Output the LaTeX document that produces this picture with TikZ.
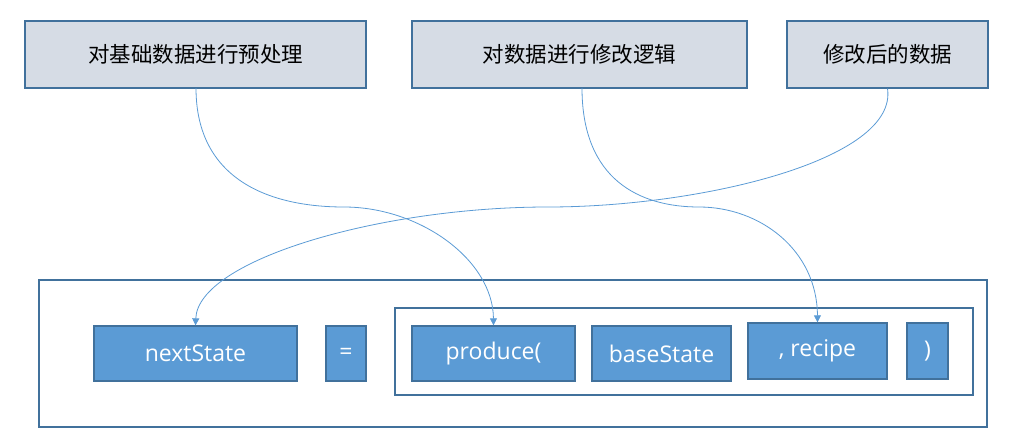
\documentclass[tikz,border=0pt]{standalone}
\usepackage{fontspec}
\setmainfont{Open Sans}
\newfontfamily\cjk{Noto Sans CJK SC}
\usetikzlibrary{arrows.meta}
\definecolor{topfill}{HTML}{D6DCE5}
\definecolor{bord}{HTML}{41719C}
\definecolor{accent}{HTML}{5B9BD5}
\tikzset{
  topbox/.style={draw=bord, line width=1.3pt, fill=topfill, inner sep=0pt, font=\cjk\fontsize{21.5}{25}\selectfont, text=black},
  codebox/.style={draw=bord, line width=1.3pt, fill=accent, inner sep=0pt, font=\fontsize{23}{27}\selectfont, text=white},
  frame/.style={draw=bord, line width=1.3pt},
  link/.style={draw=accent, line width=0.8pt, -{Triangle[width=7pt,length=7pt]}}
}
\begin{document}
\begin{tikzpicture}[x=1pt,y=-1pt]
\useasboundingbox (0,0) rectangle (1035,441);
% top boxes
\node[topbox, minimum width=341pt, minimum height=67pt] (t1) at (195.5,54.5) {对基础数据进行预处理};
\node[topbox, minimum width=335pt, minimum height=67pt] (t2) at (579.5,54.5) {对数据进行修改逻辑};
\node[topbox, minimum width=201pt, minimum height=67pt] (t3) at (887.5,54.5) {修改后的数据};
% frames
\node[frame, minimum width=948pt, minimum height=147pt, inner sep=0pt] (outer) at (513,353.5) {};
\node[frame, minimum width=578pt, minimum height=87pt, inner sep=0pt] (inner) at (684,351.5) {};
% code boxes
\node[codebox, minimum width=203pt, minimum height=55pt] (ns) at (195.5,353.5) {nextState};
\node[codebox, minimum width=40pt, minimum height=55pt] (eq) at (346,353.5) {=};
\node[codebox, minimum width=163pt, minimum height=55pt] (pr) at (493.5,353.5) {produce(};
\node[codebox, minimum width=139pt, minimum height=55pt] (bs) at (661.5,353.5) {baseState};
\node[codebox, minimum width=139pt, minimum height=56pt] (rc) at (817.5,351) {, recipe};
\node[codebox, minimum width=41pt, minimum height=56pt] (cl) at (927.5,351) {)};
% connectors
\coordinate (s1) at (196,88);
\coordinate (s2) at (582,88);
\coordinate (m1) at (344,207);
\coordinate (m2) at (699,207);
\coordinate (m3) at (548,207);
\draw[link] (s1) .. controls (196,180) and (270,207) .. (m1) .. controls (420,207) and (493,260) .. (pr.north);
\draw[link] (s2) .. controls (582,180) and (640,207) .. (m2) .. controls (760,207) and (817,250) .. (rc.north);
\draw[link] (t3.south) .. controls (898,160) and (700,207) .. (m3) .. controls (380,207) and (198,260) .. (ns.north);
\end{tikzpicture}
\end{document}
